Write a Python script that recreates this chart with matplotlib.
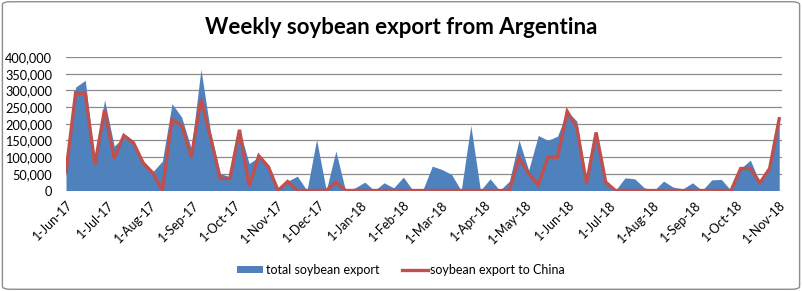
import matplotlib
matplotlib.use("Agg")
import matplotlib.pyplot as plt
from matplotlib.patches import Patch, FancyBboxPatch
from matplotlib.lines import Line2D
import pandas as pd

plt.rcParams['font.family'] = ['Lato', 'DejaVu Sans']

title = "Weekly soybean export from Argentina"
start_date = "2017-06-01"
n_weeks = 75

total_export = [
    56000, 310000, 330000, 80000, 272000, 133000, 160000, 143000, 83000, 56000,
    88000, 260000, 220000, 125000, 363000, 175000, 51000, 41000, 182000, 81000,
    100000, 71000, 0, 28000, 43000, 0, 153000, 0, 118000, 0,
    8000, 25000, 0, 23000, 8000, 40000, 0, 0, 73000, 63000,
    48000, 0, 195000, 0, 35000, 0, 28000, 151000, 61000, 165000,
    150000, 163000, 237000, 208000, 23000, 174000, 25000, 0, 38000, 35000,
    8000, 0, 28000, 10000, 5000, 23000, 0, 32000, 33000, 0,
    66000, 91000, 23000, 66000, 215000,
]
china_export = [
    56000, 293000, 290000, 78000, 242000, 96000, 165000, 143000, 83000, 53000,
    0, 213000, 195000, 100000, 274000, 158000, 36000, 36000, 182000, 13000,
    104000, 71000, 0, 27000, 0, 0, 0, 0, 25000, 0,
    0, 0, 0, 0, 0, 0, 0, 0, 0, 0,
    0, 0, 0, 0, 0, 0, 0, 97000, 51000, 17000,
    100000, 100000, 237000, 188000, 21000, 174000, 25000, 0, 0, 0,
    0, 0, 0, 0, 0, 0, 0, 0, 0, 0,
    66000, 66000, 23000, 66000, 215000,
]
tick_dates = pd.date_range("2017-06-01", "2018-11-01", freq="MS")
tick_labels = [f"{d.day}-{d.strftime('%b-%y')}" for d in tick_dates]
y_ticks = [0, 50000, 100000, 150000, 200000, 250000, 300000, 350000, 400000]

dates = pd.date_range(start_date, periods=n_weeks, freq="7D")

fig = plt.figure(figsize=(8.02, 2.91), dpi=100)
fig.patch.set_facecolor("white")
border = FancyBboxPatch((0.003, 0.006), 0.994, 0.988, boxstyle="round,pad=0,rounding_size=0.01",
                        transform=fig.transFigure, facecolor="none", edgecolor="#8c8c8c", lw=1.0)
fig.patches.append(border)

ax = fig.add_axes([66/802, 1 - 190.5/291, (782-66)/802, (190.5-57)/291])
ax.fill_between(dates, total_export, 0, color="#4F81BD", lw=0, zorder=2)
ax.plot(dates, china_export, color="#C0504D", lw=2.4, zorder=3, solid_joinstyle="miter")

ax.set_xlim(dates[0], dates[-1] + pd.Timedelta(days=2))
ax.set_ylim(0, 400000)
ax.set_yticks(y_ticks)
ax.set_yticklabels([f"{v:,}" for v in y_ticks], fontsize=9.2)
ax.set_xticks(tick_dates)
ax.set_xticklabels(tick_labels, rotation=45, ha="right", rotation_mode="anchor", fontsize=9)
ax.tick_params(axis="both", length=0)
ax.tick_params(axis="y", pad=10)
ax.tick_params(axis="x", pad=6)
ax.grid(axis="y", color="#8c8c8c", lw=0.9, zorder=1)
for s in ax.spines.values():
    s.set_visible(False)

fig.text(0.5, 1 - 28/291, title, ha="center", va="center", fontsize=16, fontweight="bold")

handles = [Patch(facecolor="#4F81BD", edgecolor="none"),
           Line2D([0], [0], color="#C0504D", lw=2.4)]
fig.legend(handles, ["total soybean export", "soybean export to China"], loc="center",
           bbox_to_anchor=(0.5, 1 - 270/291), ncol=2, frameon=False, fontsize=9,
           handlelength=2.1, handleheight=0.55, columnspacing=1.8, handletextpad=0.2)

fig.savefig("out.png", dpi=100)
